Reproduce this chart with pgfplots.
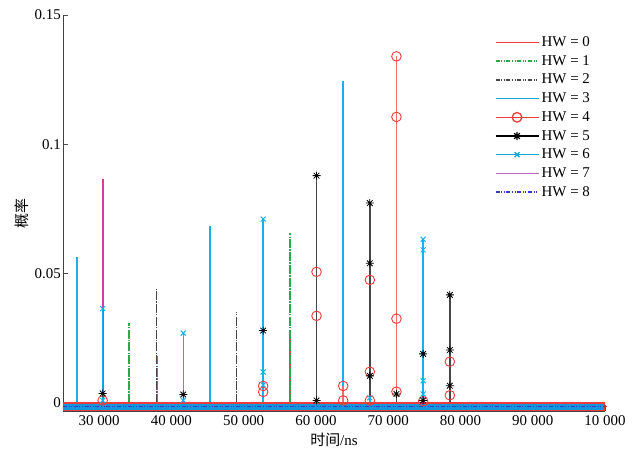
\documentclass[border=0pt]{standalone}
\usepackage{pgfplots}
\pgfplotsset{compat=1.18}
\usepackage{fontspec}
\setmainfont{Liberation Serif}
\newfontfamily\cjk{Noto Sans CJK SC}
\usetikzlibrary{plotmarks}

\definecolor{hwred}{RGB}{238,60,60}
\definecolor{hwgreen}{RGB}{40,170,70}
\definecolor{hwgray}{RGB}{70,70,70}
\definecolor{hwcyan}{RGB}{25,175,235}
\definecolor{hwmag}{RGB}{215,60,160}
\definecolor{hwmagleg}{RGB}{185,100,185}
\definecolor{hwblue}{RGB}{50,60,200}
\definecolor{bandcyan}{RGB}{20,150,220}

\pgfdeclareplotmark{mstar}{%
  \pgfpathmoveto{\pgfqpoint{-\pgfplotmarksize}{0pt}}\pgfpathlineto{\pgfqpoint{\pgfplotmarksize}{0pt}}%
  \pgfpathmoveto{\pgfqpoint{0pt}{-\pgfplotmarksize}}\pgfpathlineto{\pgfqpoint{0pt}{\pgfplotmarksize}}%
  \pgfpathmoveto{\pgfqpoint{-0.707\pgfplotmarksize}{-0.707\pgfplotmarksize}}\pgfpathlineto{\pgfqpoint{0.707\pgfplotmarksize}{0.707\pgfplotmarksize}}%
  \pgfpathmoveto{\pgfqpoint{-0.707\pgfplotmarksize}{0.707\pgfplotmarksize}}\pgfpathlineto{\pgfqpoint{0.707\pgfplotmarksize}{-0.707\pgfplotmarksize}}%
  \pgfusepathqstroke}

\pgfplotsset{
  legline/.style={legend image code/.code={%
    \draw[mark repeat=2,mark phase=2] plot coordinates {(0bp,0bp) (21.5bp,0bp) (43bp,0bp)};}},
  dashdd/.style={dash pattern=on 4bp off 1.6bp on 1bp off 1.6bp on 1bp off 1.6bp},
  dashstem/.style={dash pattern=on 9bp off 1.2bp on 1.5bp off 1.2bp},
}

\begin{document}
\begin{tikzpicture}
\begin{axis}[
  scale only axis,
  width=542bp, height=396.3bp,
  xmin=25000, xmax=100000,
  ymin=-0.0032, ymax=0.15,
  axis x line*=bottom, axis y line*=left,
  axis line style={-, black!75, line width=0.7bp},
  xtick={30000,40000,50000,60000,70000,80000,90000,100000},
  xticklabels={30 000,40 000,50 000,60 000,70 000,80 000,90 000,10 000},
  ytick={0,0.05,0.1,0.15},
  yticklabels={0,0.05,0.1,0.15},
  scaled x ticks=false, scaled y ticks=false,
  tick align=inside,
  major tick length=5bp,
  tick style={black!70, line width=0.6bp},
  ticklabel style={font=\fontsize{15}{18}\selectfont},
  yticklabel style={inner sep=2bp},
  xticklabel style={inner sep=4bp},
  xlabel={\cjk\fontsize{15}{17}\selectfont 时间\fontspec{Liberation Serif}\fontsize{15}{18}\selectfont/ns},
  ylabel={\cjk\fontsize{15}{17}\selectfont 概率},
  legend cell align=left,
  legend style={at={(rel axis cs:0.7963,0.9547)}, anchor=north west, draw=none, fill=none,
    inner sep=0pt, row sep=0pt, font=\fontsize{15}{18}\selectfont,
    nodes={text height=11bp, text depth=3bp, inner sep=2.35bp}},
]
% HW = 0
\addplot[ycomb, draw=hwred, solid, line width=1.6bp, forget plot] coordinates {
 (56400,0.026)
};
% HW = 1
\addplot[ycomb, draw=hwgreen, dashstem, line width=1.8bp, forget plot] coordinates {
 (34170,0.031) (38000,0.018) (56400,0.0657)
};
% HW = 2
\addplot[ycomb, draw=hwgray, dashstem, line width=1.5bp, forget plot] coordinates {
 (37960,0.044) (49020,0.035)
};
% HW = 3
\addplot[ycomb, draw=hwcyan, solid, line width=1.5bp, forget plot] coordinates {
 (26940,0.0565) (45330,0.0685) (63770,0.1245)
};
% HW = 7
\addplot[ycomb, draw=hwmag, solid, line width=1.8bp, forget plot] coordinates {
 (30490,0.0867)
};
% HW = 4
\addplot[ycomb, draw=hwred!75, solid, line width=1.5bp, mark=o, mark size=4.8bp,
  mark options={draw=hwred, solid, line width=0.9bp}, forget plot] coordinates {
 (30490,0.001) (52700,0.0066) (52700,0.0043)
 (60080,0.0507) (60080,0.0337)
 (63770,0.0066) (63770,0.001)
 (67460,0.0476) (67460,0.0121) (67460,0.001)
 (71140,0.134) (71140,0.1106) (71140,0.0326) (71140,0.0044)
 (74830,0.0007)
 (78530,0.016) (78530,0.003)
};
% HW = 5
\addplot[ycomb, draw=hwgray, solid, line width=1.5bp, mark=mstar, mark size=4bp,
  mark options={draw=black, solid, line width=0.8bp}, forget plot] coordinates {
 (30490,0.0037) (41640,0.0033) (52700,0.028)
 (60080,0.0879) (60080,0.001)
 (67460,0.0773) (67460,0.054) (67460,0.0105)
 (71140,0.0035)
 (74830,0.019) (74830,0.001)
 (78530,0.0418) (78530,0.0205) (78530,0.0067)
};
% HW = 6
\addplot[ycomb, draw=hwcyan, solid, line width=1.5bp, mark=x, mark size=3.5bp,
  mark options={draw=hwcyan, solid, line width=1bp}, forget plot] coordinates {
 (30490,0.0365) (30490,0.001)
 (41640,0.027) (41640,0.001)
 (52700,0.0711) (52700,0.012) (52700,0.007)
 (67460,0.002)
 (74830,0.0633) (74830,0.0592) (74830,0.0086) (74830,0.0035)
};
% baseline band (all series at zero)
\addplot[draw=hwred, line width=8.5bp, line cap=round, forget plot] coordinates {(25000,-0.0013) (100000,-0.0013)};
\addplot[draw=bandcyan, line width=6bp, forget plot] coordinates {(25000,-0.00135) (99900,-0.00135)};
% HW = 8
\addplot[draw=hwblue, dashdd, line width=0.8bp, forget plot] coordinates {(25000,-0.00135) (99900,-0.00135)};
\addplot[only marks, mark=*, mark size=1.6bp, color=hwred!80!black, forget plot] coordinates {(100000,-0.0013)};

\addlegendimage{draw=hwred, solid, line width=1.3bp, legline}
\addlegendentry{HW = 0}
\addlegendimage{draw=hwgreen, dashdd, line width=1.5bp, legline}
\addlegendentry{HW = 1}
\addlegendimage{draw=hwgray, dashdd, line width=1.3bp, legline}
\addlegendentry{HW = 2}
\addlegendimage{draw=hwcyan!80!teal, solid, line width=1.4bp, legline}
\addlegendentry{HW = 3}
\addlegendimage{draw=hwred, solid, line width=1.3bp, mark=o, mark size=4.8bp, mark options={solid}, legline}
\addlegendentry{HW = 4}
\addlegendimage{draw=black, solid, line width=1.3bp, mark=mstar, mark size=4bp, mark options={solid}, legline}
\addlegendentry{HW = 5}
\addlegendimage{draw=hwcyan!80!teal, solid, line width=1.3bp, mark=x, mark size=3.5bp, mark options={solid}, legline}
\addlegendentry{HW = 6}
\addlegendimage{draw=hwmagleg, solid, line width=1.5bp, legline}
\addlegendentry{HW = 7}
\addlegendimage{draw=hwblue, dashdd, line width=1.3bp, legline}
\addlegendentry{HW = 8}
\end{axis}
\path ([xshift=-63bp,yshift=-42.7bp]current axis.south west) rectangle ++(632bp,454bp);
\end{tikzpicture}
\end{document}
